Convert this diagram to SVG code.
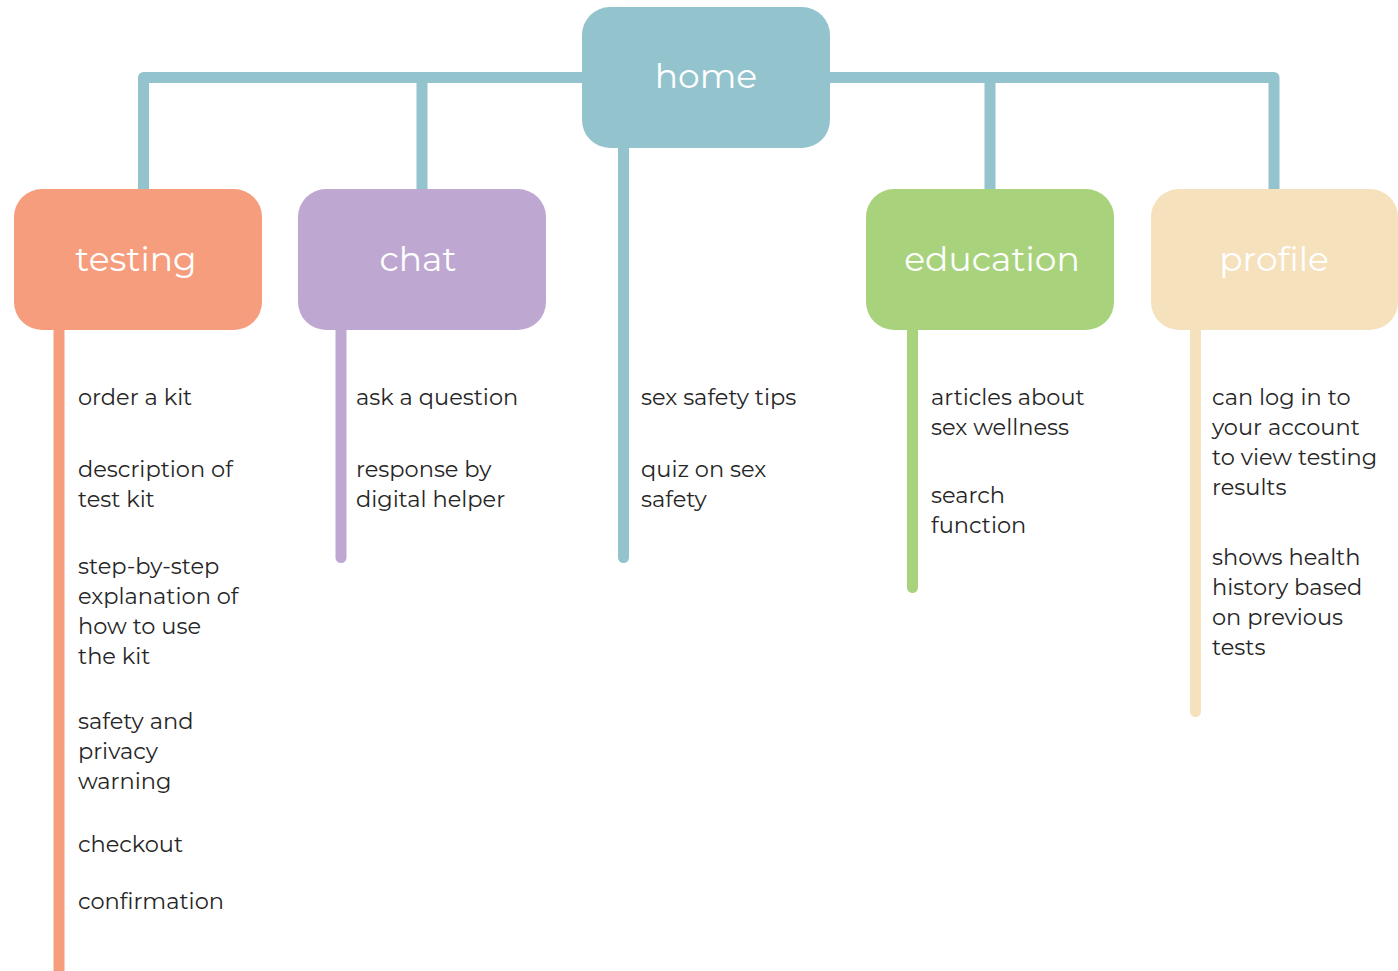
<svg xmlns="http://www.w3.org/2000/svg" width="1398" height="971" viewBox="0 0 1398 971">
<style>
.box-label{font-family:"Montserrat","Open Sans","Liberation Sans",sans-serif;font-size:34.5px;fill:#ffffff;text-anchor:middle}
.item{font-family:"Montserrat","Open Sans","Liberation Sans",sans-serif;font-size:22.5px;fill:#262626}
.conn{fill:none;stroke-width:11;stroke-linecap:round;stroke-linejoin:round}
</style>
<rect width="1398" height="971" fill="#ffffff"/>
<g id="connectors">
<path class="conn" stroke="#93C4CE" d="M143.5,195 V77.5 H1274 V195"/>
<path class="conn" stroke="#93C4CE" d="M422,77.5 V195"/>
<path class="conn" stroke="#93C4CE" d="M990,77.5 V195"/>
<path class="conn" stroke="#93C4CE" d="M623.5,140 V557.5"/>
<path class="conn" stroke="#F59D7C" d="M59,320 V990"/>
<path class="conn" stroke="#BEA7D1" d="M341,320 V557.5"/>
<path class="conn" stroke="#A8D37C" d="M912.5,320 V587.5"/>
<path class="conn" stroke="#F6E1BD" d="M1195.5,320 V711.5"/>
</g>
<g id="home">
<rect x="582" y="7" width="248" height="141" rx="28" fill="#93C4CE"/>
<text class="box-label" x="706" y="88">home</text>
<text class="item" x="641" y="405">sex safety tips</text>
<text class="item" x="641" y="477">quiz on sex</text>
<text class="item" x="641" y="507">safety</text>
</g>
<g id="testing">
<rect x="14" y="189" width="248" height="141" rx="28" fill="#F59D7C"/>
<text class="box-label" x="136" y="271">testing</text>
<text class="item" x="78" y="405">order a kit</text>
<text class="item" x="78" y="477">description of</text>
<text class="item" x="78" y="507">test kit</text>
<text class="item" x="78" y="574">step-by-step</text>
<text class="item" x="78" y="604">explanation of</text>
<text class="item" x="78" y="634">how to use</text>
<text class="item" x="78" y="664">the kit</text>
<text class="item" x="78" y="729">safety and</text>
<text class="item" x="78" y="759">privacy</text>
<text class="item" x="78" y="789">warning</text>
<text class="item" x="78" y="852">checkout</text>
<text class="item" x="78" y="909">confirmation</text>
</g>
<g id="chat">
<rect x="298" y="189" width="248" height="141" rx="28" fill="#BEA7D1"/>
<text class="box-label" x="418" y="271">chat</text>
<text class="item" x="356" y="405">ask a question</text>
<text class="item" x="356" y="477">response by</text>
<text class="item" x="356" y="507">digital helper</text>
</g>
<g id="education">
<rect x="866" y="189" width="248" height="141" rx="28" fill="#A8D37C"/>
<text class="box-label" x="992" y="271">education</text>
<text class="item" x="931" y="405">articles about</text>
<text class="item" x="931" y="435">sex wellness</text>
<text class="item" x="931" y="503">search</text>
<text class="item" x="931" y="533">function</text>
</g>
<g id="profile">
<rect x="1151" y="189" width="247" height="141" rx="28" fill="#F6E1BD"/>
<text class="box-label" x="1274" y="271">profile</text>
<text class="item" x="1212" y="405">can log in to</text>
<text class="item" x="1212" y="435">your account</text>
<text class="item" x="1212" y="465">to view testing</text>
<text class="item" x="1212" y="495">results</text>
<text class="item" x="1212" y="565">shows health</text>
<text class="item" x="1212" y="595">history based</text>
<text class="item" x="1212" y="625">on previous</text>
<text class="item" x="1212" y="655">tests</text>
</g>
</svg>
